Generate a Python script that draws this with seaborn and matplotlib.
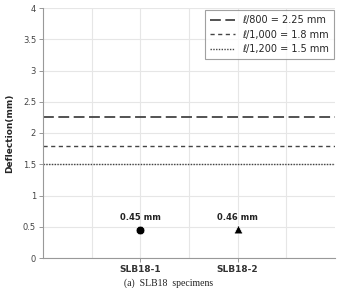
import matplotlib
matplotlib.use("Agg")
import matplotlib.pyplot as plt
import seaborn as sns
import pandas as pd

specimens = ["SLB18-1", "SLB18-2"]
deflections = [0.45, 0.46]
positions = [2, 4]
markers = ["o", "^"]
limit_labels = ["ℓ/800 = 2.25 mm", "ℓ/1,000 = 1.8 mm", "ℓ/1,200 = 1.5 mm"]
limit_values = [2.25, 1.8, 1.5]
limit_styles = [(0, (6, 2.5)), (0, (3, 2.5)), (0, (1, 1))]

sns.set_theme(style="white")
plt.rcParams['font.family'] = ['DejaVu Sans']

fig = plt.figure(figsize=(3.38, 2.88), dpi=100)
ax = fig.add_axes([43/338, 30/288, 292/338, 250/288])

for xi, yi, m in zip(positions, deflections, markers):
    sns.scatterplot(x=[xi], y=[yi], marker=m, color="black", s=40, ax=ax, zorder=5)
    ax.text(xi, yi + 0.12, f"{yi:.2f} mm", ha="center", va="bottom", fontsize=6, fontweight="bold", color="#222222")

handles = []
for v, lab, ls in zip(limit_values, limit_labels, limit_styles):
    h = ax.axhline(v, color="#444444", linestyle=ls, linewidth=1.3 if v > 2 else 1.0, label=lab)
    handles.append(h)

ax.set_xlim(0, 6)
ax.set_ylim(0, 4)
ax.set_yticks([0, 0.5, 1, 1.5, 2, 2.5, 3, 3.5, 4])
ax.set_yticklabels(["0", "0.5", "1", "1.5", "2", "2.5", "3", "3.5", "4"], fontsize=6, color="#444444")
ax.set_xticks(positions)
ax.set_xticklabels(specimens, fontsize=6.5, fontweight="bold", color="#333333")
ax.set_xticks([1, 2, 3, 4, 5], minor=True)
ax.grid(True, which="both", axis="x", color="#e6e6e6", linewidth=0.8)
ax.grid(True, which="major", axis="y", color="#e6e6e6", linewidth=0.8)
ax.tick_params(axis="y", which="major", length=3, width=0.6, color="#888888", left=True, pad=2)
ax.tick_params(axis="x", which="major", length=3, width=0.6, color="#888888", bottom=True, pad=2)
ax.tick_params(axis="x", which="minor", length=0)
for s in ["top", "right"]:
    ax.spines[s].set_visible(False)
for s in ["left", "bottom"]:
    ax.spines[s].set_color("#999999")
    ax.spines[s].set_linewidth(0.8)

ax.set_ylabel("Deflection(mm)", fontsize=6.5, fontweight="bold", labelpad=6)
ax.set_xlabel("")

leg = ax.legend(handles=handles, loc="upper right", bbox_to_anchor=(1.008, 1.004), fontsize=7,
                frameon=True, fancybox=False, edgecolor="#888888", handlelength=2.6,
                borderpad=0.55, labelspacing=0.45, handletextpad=0.7, borderaxespad=0.3)
leg.get_frame().set_linewidth(0.8)

fig.text(0.5, 0.0, "(a)  SLB18  specimens", ha="center", va="bottom", fontsize=7,
         family=["Liberation Serif", "DejaVu Serif"], color="#222222")

fig.savefig("out.png", dpi=100)
